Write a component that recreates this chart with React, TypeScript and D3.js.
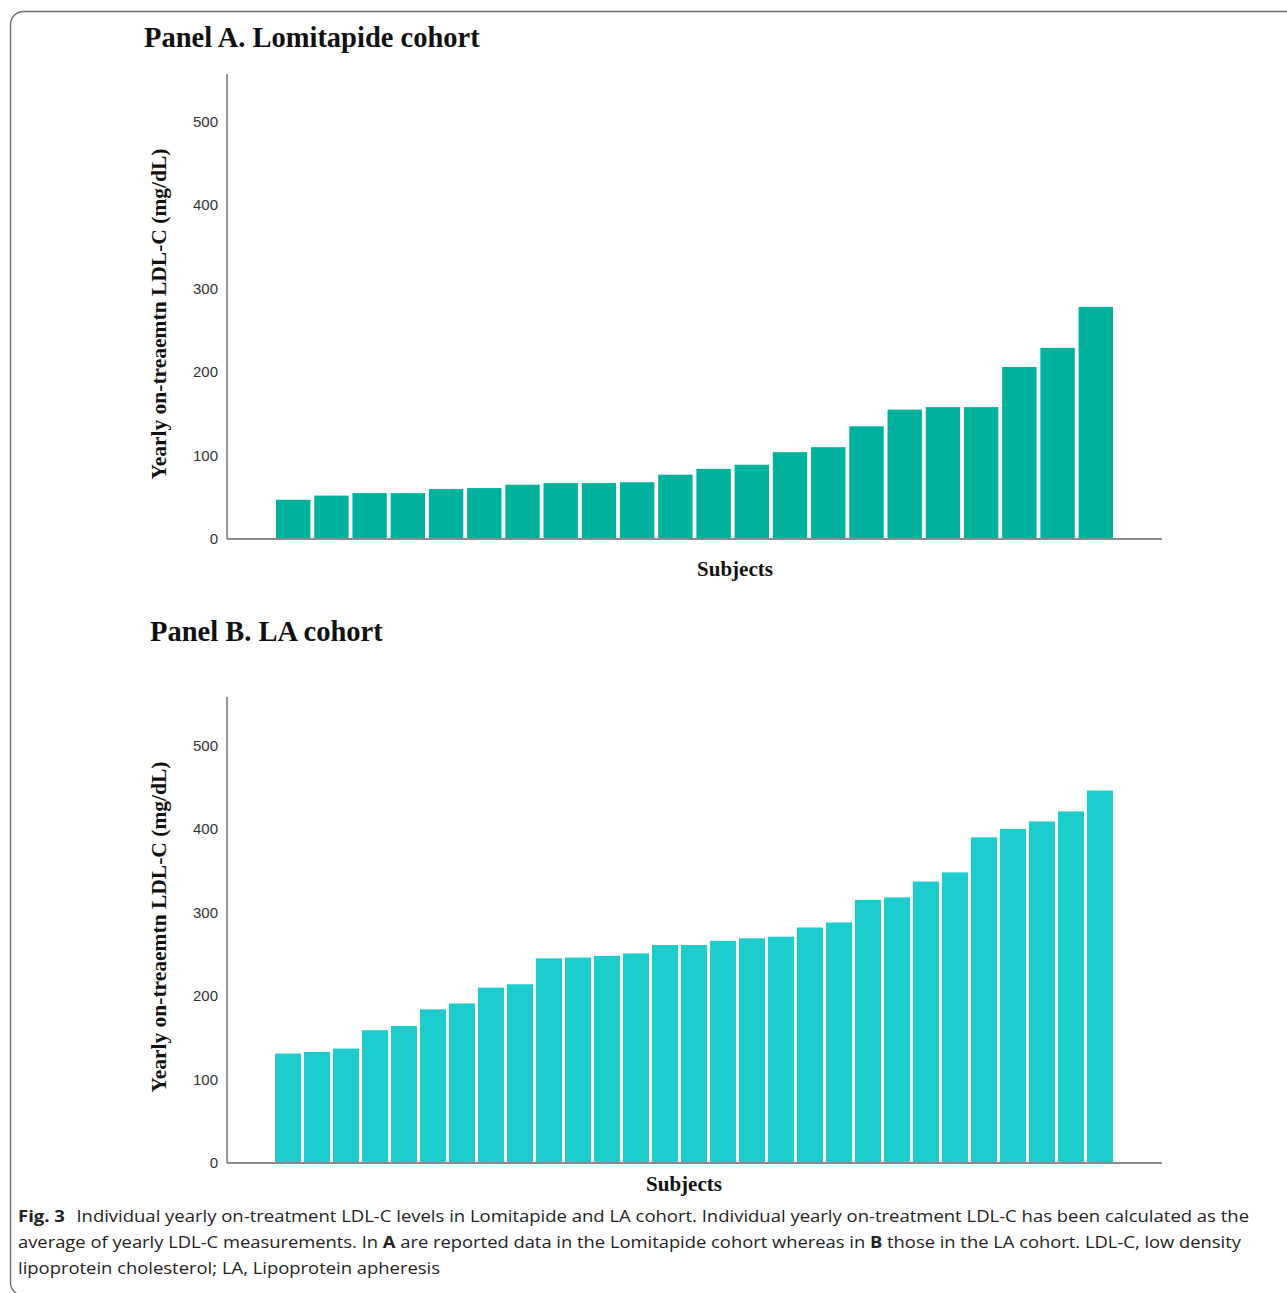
import React from "react";
import * as d3 from "d3";

const lomitapideValues = [47, 52, 55, 55, 60, 61, 65, 67, 67, 68, 77, 84, 89, 104, 110, 135, 155, 158, 158, 206, 229, 278];
const laValues = [131, 133, 137, 159, 164, 184, 191, 210, 214, 245, 246, 248, 251, 261, 261, 266, 269, 271, 282, 288, 315, 318, 337, 348, 390, 400, 409, 421, 446];
const yTicks = [0, 100, 200, 300, 400, 500];
const panelTitles = ["Panel A. Lomitapide cohort", "Panel B. LA cohort"];
const yTitle = "Yearly on-treaemtn LDL-C (mg/dL)";
const xTitle = "Subjects";

const W = 1287;
const H = 1293;

type PanelProps = {
  values: number[];
  color: string;
  title: string;
  titleX: number;
  titleY: number;
  top: number;
  base: number;
  yMax: number;
  barStart: number;
  barEnd: number;
  xTitleX: number;
  xTitleY: number;
  yTitleY: number;
};

const axisLeft = 227;
const axisRight = 1162;

function Panel(p: PanelProps) {
  const x = d3
    .scaleBand<number>()
    .domain(p.values.map((_, i) => i))
    .range([p.barStart, p.barEnd])
    .paddingInner(0.1)
    .paddingOuter(0);
  const y = d3.scaleLinear().domain([0, p.yMax]).range([p.base, p.top]);
  return (
    <g>
      <text
        x={p.titleX}
        y={p.titleY}
        fontFamily="'Liberation Serif', 'Times New Roman', serif"
        fontWeight="bold"
        fontSize={28.5}
        fill="#111"
      >
        {p.title}
      </text>
      {p.values.map((v, i) => (
        <rect
          key={i}
          x={x(i)}
          y={y(v)}
          width={x.bandwidth()}
          height={y(0) - y(v)}
          fill={p.color}
        />
      ))}
      <line x1={axisLeft} x2={axisLeft} y1={y(p.yMax)} y2={y(0)} stroke="#8a8a8a" strokeWidth={1.8} />
      <line x1={axisLeft} x2={axisRight} y1={y(0)} y2={y(0)} stroke="#8a8a8a" strokeWidth={1.8} />
      {yTicks.map((t) => (
        <text
          key={t}
          x={218}
          y={y(t)}
          dy="0.36em"
          textAnchor="end"
          fontFamily="'Liberation Sans', Arial, sans-serif"
          fontSize={15}
          fill="#333"
        >
          {t}
        </text>
      ))}
      <text
        transform={`translate(166, ${p.yTitleY}) rotate(-90)`}
        textAnchor="middle"
        fontFamily="'Liberation Serif', 'Times New Roman', serif"
        fontWeight="bold"
        fontSize={21.5}
        fill="#111"
      >
        {yTitle}
      </text>
      <text
        x={p.xTitleX}
        y={p.xTitleY}
        textAnchor="middle"
        fontFamily="'Liberation Serif', 'Times New Roman', serif"
        fontWeight="bold"
        fontSize={21}
        fill="#111"
      >
        {xTitle}
      </text>
    </g>
  );
}

export default function App() {
  const capFont = "'Open Sans', 'Noto Sans', sans-serif";
  return (
    <svg
      width={W}
      height={H}
      style={{ position: "absolute", left: 0, top: 0, background: "#fff" }}
      xmlns="http://www.w3.org/2000/svg"
    >
      <rect x={0} y={0} width={W} height={H} fill="#fff" />
      <rect x={10.5} y={11.5} width={1300} height={1284} rx={13} fill="none" stroke="#6e6e6e" strokeWidth={1.4} />
      <Panel
        values={lomitapideValues}
        color="#00B29E"
        title={panelTitles[0]}
        titleX={144}
        titleY={47}
        top={74}
        base={539}
        yMax={557}
        barStart={276}
        barEnd={1113}
        xTitleX={735}
        xTitleY={576}
        yTitleY={314}
      />
      <Panel
        values={laValues}
        color="#1DCCCC"
        title={panelTitles[1]}
        titleX={150}
        titleY={641}
        top={697}
        base={1163}
        yMax={558}
        barStart={275}
        barEnd={1113}
        xTitleX={684}
        xTitleY={1191}
        yTitleY={927}
      />
      <g fontFamily={capFont} fontSize={16} fill="#222">
        <text x={18} y={1222} textLength={1231} lengthAdjust="spacingAndGlyphs">
          <tspan fontWeight="bold">Fig. 3</tspan>
          <tspan dx={10}>Individual yearly on-treatment LDL-C levels in Lomitapide and LA cohort. Individual yearly on-treatment LDL-C has been calculated as the</tspan>
        </text>
        <text x={18} y={1248} textLength={1223} lengthAdjust="spacingAndGlyphs">
          <tspan>average of yearly LDL-C measurements. In </tspan>
          <tspan fontWeight="bold">A</tspan>
          <tspan> are reported data in the Lomitapide cohort whereas in </tspan>
          <tspan fontWeight="bold">B</tspan>
          <tspan> those in the LA cohort. LDL-C, low density</tspan>
        </text>
        <text x={18} y={1274} textLength={422} lengthAdjust="spacingAndGlyphs">
          lipoprotein cholesterol; LA, Lipoprotein apheresis
        </text>
      </g>
    </svg>
  );
}
